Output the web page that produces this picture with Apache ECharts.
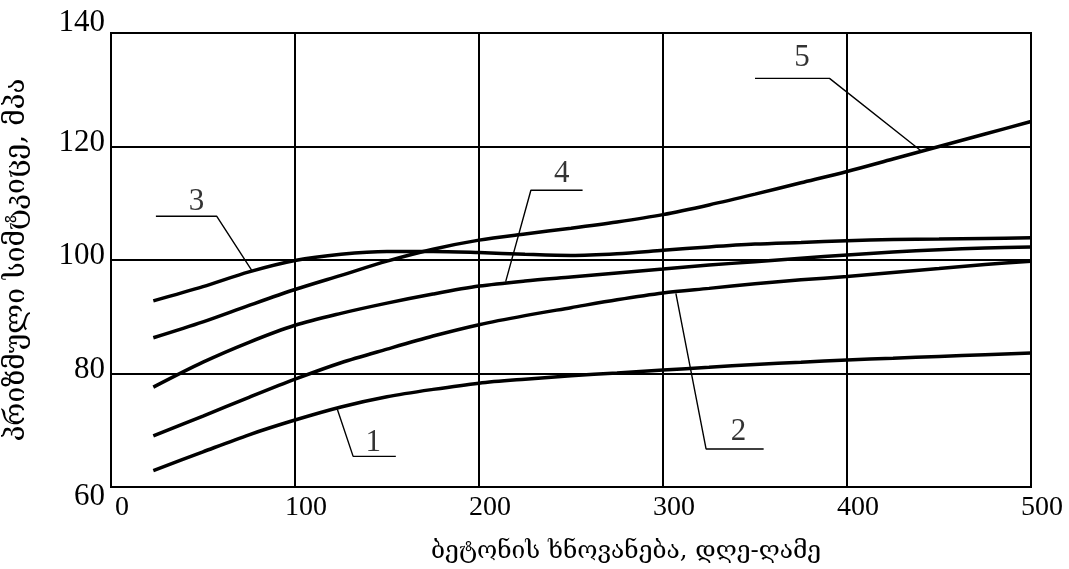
<!DOCTYPE html>
<html>
<head>
<meta charset="utf-8">
<title>პრიზმული სიმტკიცე</title>
<script src="https://cdn.jsdelivr.net/npm/echarts@6/dist/echarts.min.js"></script>
<style>
  html, body { margin: 0; padding: 0; background: #fff; }
  #chart { width: 1069px; height: 569px; }
</style>
</head>
<body>
<div id="chart"></div>
<script>
// Axis ranges and ticks
const xTicks = [0, 100, 200, 300, 400, 500];
const yTicks = [60, 80, 100, 120, 140];

// Concrete age (days) at which the curves are sampled
const ages = [23, 50, 75, 100, 125, 150, 175, 200, 225, 250, 275, 300, 325, 350, 375, 400, 425, 450, 475, 500];

// Prism strength (MPa) for curves 1-5 at those ages
const curve1 = [62.9, 66.2, 69.2, 71.8, 74.1, 75.9, 77.2, 78.3, 79.0, 79.6, 80.1, 80.6, 81.1, 81.6, 82.0, 82.4, 82.7, 83.0, 83.3, 83.6];
const curve2 = [69.0, 72.5, 75.8, 79.0, 81.9, 84.3, 86.6, 88.6, 90.2, 91.6, 93.0, 94.2, 95.0, 95.8, 96.5, 97.1, 97.8, 98.5, 99.2, 99.8];
const curve3 = [92.8, 95.3, 97.9, 99.9, 101.0, 101.5, 101.5, 101.3, 101.0, 100.8, 101.1, 101.7, 102.3, 102.8, 103.1, 103.4, 103.6, 103.7, 103.8, 103.9];
const curve4 = [77.6, 82.0, 85.5, 88.5, 90.6, 92.4, 94.0, 95.4, 96.3, 97.0, 97.7, 98.4, 99.1, 99.7, 100.3, 100.9, 101.4, 101.8, 102.1, 102.3];
const curve5 = [86.3, 89.1, 92.0, 94.8, 97.3, 99.8, 101.9, 103.5, 104.6, 105.6, 106.7, 108.0, 109.7, 111.6, 113.6, 115.6, 117.8, 120.0, 122.2, 124.4];

// Leader lines from each curve to its number
const leader1 = [[123, 73.7], [131.6, 65.4], [154.8, 65.4]];
const leader2 = [[307, 94.1], [323.4, 66.7], [354.7, 66.7]];
const leader3 = [[76.4, 98.2], [57.5, 107.7], [24.4, 107.7]];
const leader4 = [[214.5, 96.2], [228.2, 112.3], [256.3, 112.3]];
const leader5 = [[440, 119.3], [390.5, 132.0], [350, 132.0]];

// Curve numbers and where they sit
const curveNames = ['1', '2', '3', '4', '5'];
const namePositions = [[142.5, 67.8], [341, 69.8], [46.5, 110.2], [245, 115.2], [375.6, 135.6]];

const xTitle = 'ბეტონის ხნოვანება, დღე-ღამე';
const yTitle = 'პრიზმული სიმტკიცე, მპა';

const serif = '"Liberation Serif", "DejaVu Serif", serif';
const geo = '"DejaVu Serif", "DejaVu Sans", sans-serif';

const chart = echarts.init(document.getElementById('chart'), null, { renderer: 'canvas' });

const curveSeries = [curve1, curve2, curve3, curve4, curve5].map((vals, i) => ({
  name: curveNames[i],
  type: 'line',
  data: vals.map((v, k) => [ages[k], v]),
  smooth: 0.3,
  symbol: 'none',
  silent: true,
  lineStyle: { color: '#000', width: 3.5 },
  z: 3
}));

const leaderSeries = [leader1, leader2, leader3, leader4, leader5].map(d => ({
  type: 'line',
  data: d,
  smooth: false,
  symbol: 'none',
  silent: true,
  lineStyle: { color: '#000', width: 1.4 },
  z: 4
}));

const labelSeries = {
  type: 'scatter',
  data: namePositions.map((p, i) => [p[0], p[1], curveNames[i]]),
  symbolSize: 1,
  itemStyle: { color: 'rgba(0,0,0,0)' },
  silent: true,
  label: {
    show: true,
    position: 'inside',
    formatter: p => p.value[2],
    color: '#000',
    fontFamily: serif,
    fontSize: 31
  },
  z: 5
};

chart.setOption({
  animation: false,
  backgroundColor: '#fff',
  grid: {
    left: 111, right: 38, top: 33, bottom: 82,
    outerBoundsMode: 'none',
    containLabel: false,
    show: true, borderColor: '#000', borderWidth: 2, backgroundColor: 'transparent'
  },
  xAxis: {
    type: 'value',
    min: xTicks[0], max: xTicks[xTicks.length - 1], interval: 100,
    axisLine: { show: true, lineStyle: { color: '#000', width: 2 } },
    axisTick: { show: false },
    splitLine: { show: true, lineStyle: { color: '#000', width: 2 } },
    axisLabel: {
      color: '#000', fontFamily: serif, fontSize: 28, margin: 7,
      padding: [0, 0, 0, 22]
    },
    name: xTitle,
    nameLocation: 'middle',
    nameGap: 52,
    nameTextStyle: { color: '#000', fontFamily: geo, fontSize: 24.5, padding: [0, 0, 0, 110] }
  },
  yAxis: {
    type: 'value',
    min: yTicks[0], max: yTicks[yTicks.length - 1], interval: 20,
    axisLine: { show: true, lineStyle: { color: '#000', width: 2 } },
    axisTick: { show: false },
    splitLine: { show: true, lineStyle: { color: '#000', width: 2 } },
    axisLabel: {
      margin: 6,
      formatter: v => v === yTicks[yTicks.length - 1] ? '{hi|' + v + '}'
        : v === yTicks[0] ? '{lo|' + v + '}' : '{mid|' + v + '}',
      rich: {
        hi: { color: '#000', fontFamily: serif, fontSize: 31, padding: [0, 0, 20, 0] },
        lo: { color: '#000', fontFamily: serif, fontSize: 31, padding: [20, 0, 0, 0] },
        mid: { color: '#000', fontFamily: serif, fontSize: 31, padding: [0, 0, 8, 0] }
      }
    },
    name: yTitle,
    nameLocation: 'middle',
    nameGap: 80,
    nameRotate: 90,
    nameTextStyle: { color: '#000', fontFamily: geo, fontSize: 28 }
  },
  series: [...curveSeries, ...leaderSeries, labelSeries]
});
</script>
</body>
</html>
